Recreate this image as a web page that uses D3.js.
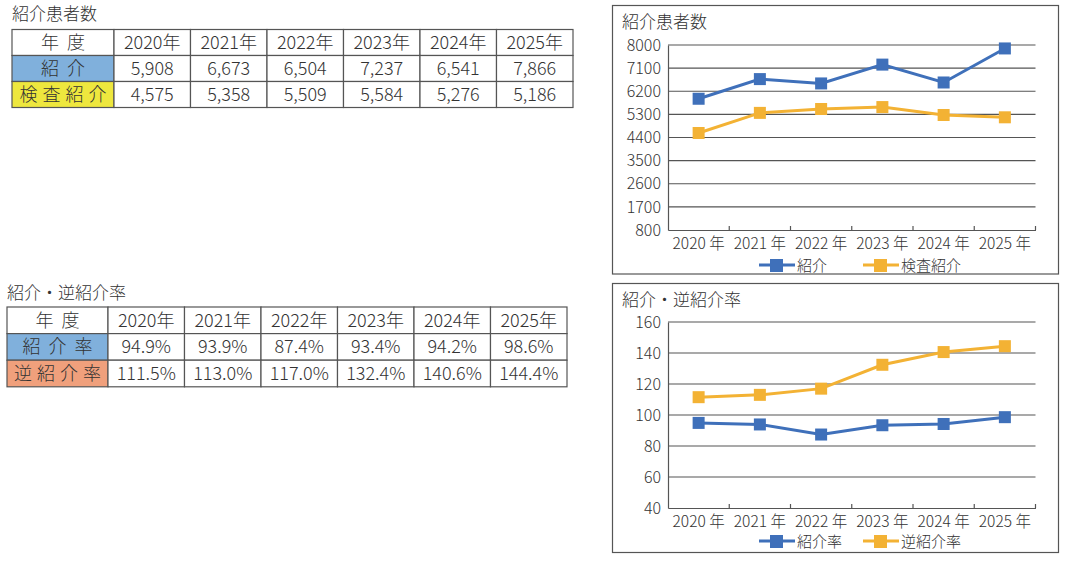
<!DOCTYPE html>
<html>
<head>
<meta charset="utf-8">
<script src="https://cdn.jsdelivr.net/npm/d3@7"></script>
<style>
  body { margin: 0; background: #fff; }
  svg { font-family: "Noto Sans CJK JP", "Noto Sans", sans-serif; font-weight: 300; }
</style>
</head>
<body>
<svg id="main" width="1069" height="562"></svg>
<script>
// Data
var years = ["2020", "2021", "2022", "2023", "2024", "2025"];
var referrals = [5908, 6673, 6504, 7237, 6541, 7866];
var examReferrals = [4575, 5358, 5509, 5584, 5276, 5186];
var referralRate = [94.9, 93.9, 87.4, 93.4, 94.2, 98.6];
var reverseRate = [111.5, 113.0, 117.0, 132.4, 140.6, 144.4];
var countTicks = [800, 1700, 2600, 3500, 4400, 5300, 6200, 7100, 8000];
var rateTicks = [40, 60, 80, 100, 120, 140, 160];

var blue = "#3f70ba";
var orange = "#f3b234";
var textColor = "#333";

var svg = d3.select("#main");

// Tables on the left
drawTable({
    title: "紹介患者数", titleY: 20,
    x: 12, y: 29.5, firstW: 102, colW: 76.5, rowH: 26,
    rows: [
        {label: "紹介", fill: "#80b0dc", cells: referrals.map(d3.format(","))},
        {label: "検査紹介", fill: "#eee73e", cells: examReferrals.map(d3.format(","))}
    ]
});

drawTable({
    title: "紹介・逆紹介率", titleY: 299,
    x: 7, y: 307, firstW: 101, colW: 76.5, rowH: 26.6,
    rows: [
        {label: "紹介率", fill: "#80b0dc", cells: referralRate.map(function(d) { return d.toFixed(1) + "%"; })},
        {label: "逆紹介率", fill: "#f0a07c", cells: reverseRate.map(function(d) { return d.toFixed(1) + "%"; })}
    ]
});

// Line charts on the right
drawChart({
    title: "紹介患者数",
    frame: [612.5, 5.5, 446, 268.5],
    plot: {left: 668, right: 1035.5, top: 45, bottom: 230},
    ticks: countTicks,
    series: [
        {name: "紹介", values: referrals, color: blue},
        {name: "検査紹介", values: examReferrals, color: orange}
    ],
    legendY: 265
});

drawChart({
    title: "紹介・逆紹介率",
    frame: [612.5, 283.5, 446, 269],
    plot: {left: 668, right: 1035.5, top: 322, bottom: 508},
    ticks: rateTicks,
    series: [
        {name: "紹介率", values: referralRate, color: blue},
        {name: "逆紹介率", values: reverseRate, color: orange}
    ],
    legendY: 541
});

function drawTable(cfg) {
    var g = svg.append("g");

    g.append("text")
        .attr("x", cfg.x)
        .attr("y", cfg.titleY)
        .attr("font-size", 17)
        .attr("fill", textColor)
        .text(cfg.title);

    var x = d3.scaleBand()
        .domain(years)
        .range([cfg.x + cfg.firstW, cfg.x + cfg.firstW + cfg.colW * years.length]);

    var allRows = [{label: "年度", fill: "#fff", cells: years.map(function(y) { return y + "年"; })}].concat(cfg.rows);
    var y = d3.scaleBand()
        .domain(d3.range(allRows.length))
        .range([cfg.y, cfg.y + cfg.rowH * allRows.length]);

    var row = g.selectAll(".row")
        .data(allRows)
        .enter()
            .append("g")
            .attr("class", "row");

    // Label cells
    row.append("rect")
        .attr("x", cfg.x)
        .attr("y", function(d, i) { return y(i); })
        .attr("width", cfg.firstW)
        .attr("height", y.bandwidth())
        .attr("fill", function(d) { return d.fill; })
        .attr("stroke", "#555")
        .attr("stroke-width", 1.2);

    // Letter spaced labels, spacing shrinks as the label gets longer
    row.append("text")
        .attr("x", cfg.x + cfg.firstW / 2)
        .attr("y", function(d, i) { return y(i) + y.bandwidth() / 2 + 6.5; })
        .attr("text-anchor", "middle")
        .attr("font-size", 18)
        .attr("fill", textColor)
        .attr("letter-spacing", function(d) { return d.label.length > 3 ? 5 : 8; })
        .attr("dx", function(d) { return d.label.length > 3 ? 2.5 : 4; })
        .text(function(d) { return d.label; });

    // Value cells
    row.selectAll(".cell")
        .data(function(d, i) { return d.cells.map(function(c, j) { return {v: c, row: i, col: years[j]}; }); })
        .enter()
            .append("rect")
            .attr("class", "cell")
            .attr("x", function(d) { return x(d.col); })
            .attr("y", function(d) { return y(d.row); })
            .attr("width", x.bandwidth())
            .attr("height", y.bandwidth())
            .attr("fill", "#fff")
            .attr("stroke", "#555")
            .attr("stroke-width", 1.2);

    row.selectAll(".val")
        .data(function(d, i) { return d.cells.map(function(c, j) { return {v: c, row: i, col: years[j]}; }); })
        .enter()
            .append("text")
            .attr("class", "val")
            .attr("x", function(d) { return x(d.col) + x.bandwidth() / 2; })
            .attr("y", function(d) { return y(d.row) + y.bandwidth() / 2 + 6.5; })
            .attr("text-anchor", "middle")
            .attr("font-size", 18)
            .attr("fill", textColor)
            .text(function(d) { return d.v; });
}

function drawChart(cfg) {
    var g = svg.append("g");
    var p = cfg.plot;

    // Frame
    g.append("rect")
        .attr("x", cfg.frame[0])
        .attr("y", cfg.frame[1])
        .attr("width", cfg.frame[2])
        .attr("height", cfg.frame[3])
        .attr("fill", "none")
        .attr("stroke", "#555")
        .attr("stroke-width", 1.2);

    g.append("text")
        .attr("x", cfg.frame[0] + 9.5)
        .attr("y", cfg.frame[1] + 22)
        .attr("font-size", 17)
        .attr("fill", textColor)
        .text(cfg.title);

    // Scales
    var x = d3.scaleBand().domain(years).range([p.left, p.right]);
    var y = d3.scaleLinear()
        .domain([cfg.ticks[0], cfg.ticks[cfg.ticks.length - 1]])
        .range([p.bottom, p.top]);

    // Grid lines
    g.append("g")
        .selectAll("line")
        .data(cfg.ticks.slice(1))
        .enter()
            .append("line")
            .attr("x1", p.left)
            .attr("x2", p.right)
            .attr("y1", function(d) { return y(d); })
            .attr("y2", function(d) { return y(d); })
            .attr("stroke", "#555")
            .attr("stroke-width", 1.2);

    // Y axis
    var yAxis = g.append("g")
        .attr("transform", "translate(" + p.left + ",0)")
        .call(d3.axisLeft(y).tickValues(cfg.ticks).tickSize(0).tickPadding(7).tickFormat(d3.format("d")));
    yAxis.select(".domain").attr("stroke", "#555").attr("stroke-width", 1.2);
    yAxis.selectAll("text")
        .attr("font-size", 16)
        .attr("fill", textColor)
        .attr("font-family", "'Noto Sans CJK JP', sans-serif");

    // X axis with inward ticks at band edges
    var xAxis = g.append("g")
        .attr("transform", "translate(0," + p.bottom + ")")
        .call(d3.axisBottom(x).tickSize(0).tickPadding(8).tickFormat(function(d) { return d + " 年"; }));
    xAxis.select(".domain").attr("stroke", "#555").attr("stroke-width", 1.2);
    xAxis.selectAll("text")
        .attr("font-size", 15.5)
        .attr("fill", textColor)
        .attr("font-family", "'Noto Sans CJK JP', sans-serif");

    xAxis.selectAll(".edge")
        .data(years)
        .enter()
            .append("line")
            .attr("class", "edge")
            .attr("x1", function(d) { return x(d) + x.bandwidth(); })
            .attr("x2", function(d) { return x(d) + x.bandwidth(); })
            .attr("y1", -4)
            .attr("y2", 0)
            .attr("stroke", "#555")
            .attr("stroke-width", 1.2);

    // Lines and markers
    var line = d3.line()
        .x(function(d, i) { return x(years[i]) + x.bandwidth() / 2; })
        .y(function(d) { return y(d); });

    cfg.series.forEach(function(s) {
        g.append("path")
            .attr("d", line(s.values))
            .attr("fill", "none")
            .attr("stroke", s.color)
            .attr("stroke-width", 3);

        g.selectAll(null)
            .data(s.values)
            .enter()
                .append("rect")
                .attr("x", function(d, i) { return x(years[i]) + x.bandwidth() / 2 - 6; })
                .attr("y", function(d) { return y(d) - 6; })
                .attr("width", 12)
                .attr("height", 12)
                .attr("fill", s.color);
    });

    // Legend
    var legendX = [759, 863];
    cfg.series.forEach(function(s, i) {
        var lg = g.append("g").attr("transform", "translate(" + legendX[i] + "," + cfg.legendY + ")");
        lg.append("line")
            .attr("x1", 0).attr("x2", 36)
            .attr("stroke", s.color)
            .attr("stroke-width", 3);
        lg.append("rect")
            .attr("x", 11).attr("y", -6)
            .attr("width", 13).attr("height", 13)
            .attr("fill", s.color);
        lg.append("text")
            .attr("x", 38)
            .attr("y", 5.5)
            .attr("font-size", 15)
            .attr("fill", textColor)
            .text(s.name);
    });
}
</script>
</body>
</html>
